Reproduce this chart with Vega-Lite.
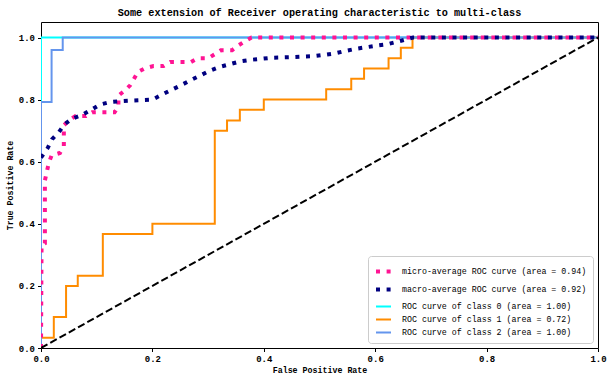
{
  "$schema": "https://vega.github.io/schema/vega-lite/v6.json",
  "width": 557,
  "height": 326,
  "autosize": {"type": "none"},
  "padding": {"left": 41, "top": 22, "right": 15, "bottom": 34},
  "background": "white",
  "title": {"text": "Some extension of Receiver operating characteristic to multi-class", "font": "Liberation Mono", "fontSize": 10.2, "fontWeight": "bold", "color": "black", "offset": 4, "anchor": "middle"},
  "config": {
    "view": {"stroke": "black", "strokeWidth": 1},
    "axis": {"grid": false, "domain": false, "tickColor": "black", "tickSize": 3.5, "labelFont": "Liberation Mono", "labelFontSize": 9, "labelFontWeight": "bold", "labelColor": "black", "labelFlush": false, "titleFont": "Liberation Mono", "titleFontSize": 8.3, "titleFontWeight": "bold", "titleColor": "black", "labelPadding": 3},
    "legend": {"orient": "bottom-right", "offset": 5, "strokeColor": "#cccccc", "fillColor": "white", "cornerRadius": 3, "padding": 6, "labelFont": "Liberation Mono", "labelFontSize": 8.3, "labelColor": "black", "labelLimit": 400, "symbolType": "stroke", "symbolSize": 225, "labelOffset": 9, "rowPadding": 0}
  },
  "datasets": {
    "roc": [
      {"s": "ROC curve of class 0 (area = 1.00)", "i": 0, "x": 0, "y": 0},
      {"s": "ROC curve of class 0 (area = 1.00)", "i": 1, "x": 0, "y": 1},
      {"s": "ROC curve of class 0 (area = 1.00)", "i": 2, "x": 1, "y": 1},
      {"s": "ROC curve of class 1 (area = 0.72)", "i": 0, "x": 0, "y": 0},
      {"s": "ROC curve of class 1 (area = 0.72)", "i": 1, "x": 0, "y": 0.033},
      {"s": "ROC curve of class 1 (area = 0.72)", "i": 2, "x": 0.023, "y": 0.033},
      {"s": "ROC curve of class 1 (area = 0.72)", "i": 3, "x": 0.023, "y": 0.1},
      {"s": "ROC curve of class 1 (area = 0.72)", "i": 4, "x": 0.045, "y": 0.1},
      {"s": "ROC curve of class 1 (area = 0.72)", "i": 5, "x": 0.045, "y": 0.2},
      {"s": "ROC curve of class 1 (area = 0.72)", "i": 6, "x": 0.066, "y": 0.2},
      {"s": "ROC curve of class 1 (area = 0.72)", "i": 7, "x": 0.066, "y": 0.233},
      {"s": "ROC curve of class 1 (area = 0.72)", "i": 8, "x": 0.111, "y": 0.233},
      {"s": "ROC curve of class 1 (area = 0.72)", "i": 9, "x": 0.111, "y": 0.367},
      {"s": "ROC curve of class 1 (area = 0.72)", "i": 10, "x": 0.2, "y": 0.367},
      {"s": "ROC curve of class 1 (area = 0.72)", "i": 11, "x": 0.2, "y": 0.4},
      {"s": "ROC curve of class 1 (area = 0.72)", "i": 12, "x": 0.312, "y": 0.4},
      {"s": "ROC curve of class 1 (area = 0.72)", "i": 13, "x": 0.312, "y": 0.7},
      {"s": "ROC curve of class 1 (area = 0.72)", "i": 14, "x": 0.334, "y": 0.7},
      {"s": "ROC curve of class 1 (area = 0.72)", "i": 15, "x": 0.334, "y": 0.733},
      {"s": "ROC curve of class 1 (area = 0.72)", "i": 16, "x": 0.357, "y": 0.733},
      {"s": "ROC curve of class 1 (area = 0.72)", "i": 17, "x": 0.357, "y": 0.767},
      {"s": "ROC curve of class 1 (area = 0.72)", "i": 18, "x": 0.4, "y": 0.767},
      {"s": "ROC curve of class 1 (area = 0.72)", "i": 19, "x": 0.4, "y": 0.8},
      {"s": "ROC curve of class 1 (area = 0.72)", "i": 20, "x": 0.512, "y": 0.8},
      {"s": "ROC curve of class 1 (area = 0.72)", "i": 21, "x": 0.512, "y": 0.833},
      {"s": "ROC curve of class 1 (area = 0.72)", "i": 22, "x": 0.557, "y": 0.833},
      {"s": "ROC curve of class 1 (area = 0.72)", "i": 23, "x": 0.557, "y": 0.867},
      {"s": "ROC curve of class 1 (area = 0.72)", "i": 24, "x": 0.58, "y": 0.867},
      {"s": "ROC curve of class 1 (area = 0.72)", "i": 25, "x": 0.58, "y": 0.9},
      {"s": "ROC curve of class 1 (area = 0.72)", "i": 26, "x": 0.624, "y": 0.9},
      {"s": "ROC curve of class 1 (area = 0.72)", "i": 27, "x": 0.624, "y": 0.933},
      {"s": "ROC curve of class 1 (area = 0.72)", "i": 28, "x": 0.646, "y": 0.933},
      {"s": "ROC curve of class 1 (area = 0.72)", "i": 29, "x": 0.646, "y": 0.967},
      {"s": "ROC curve of class 1 (area = 0.72)", "i": 30, "x": 0.667, "y": 0.967},
      {"s": "ROC curve of class 1 (area = 0.72)", "i": 31, "x": 0.667, "y": 1.0},
      {"s": "ROC curve of class 1 (area = 0.72)", "i": 32, "x": 1.0, "y": 1.0},
      {"s": "ROC curve of class 2 (area = 1.00)", "i": 0, "x": 0, "y": 0},
      {"s": "ROC curve of class 2 (area = 1.00)", "i": 1, "x": 0, "y": 0.792},
      {"s": "ROC curve of class 2 (area = 1.00)", "i": 2, "x": 0.019, "y": 0.792},
      {"s": "ROC curve of class 2 (area = 1.00)", "i": 3, "x": 0.019, "y": 0.96},
      {"s": "ROC curve of class 2 (area = 1.00)", "i": 4, "x": 0.039, "y": 0.96},
      {"s": "ROC curve of class 2 (area = 1.00)", "i": 5, "x": 0.039, "y": 1.0},
      {"s": "ROC curve of class 2 (area = 1.00)", "i": 6, "x": 1.0, "y": 1.0},
      {"s": "micro-average ROC curve (area = 0.94)", "i": 0, "x": 0, "y": 0},
      {"s": "micro-average ROC curve (area = 0.94)", "i": 1, "x": 0.001, "y": 0.33},
      {"s": "micro-average ROC curve (area = 0.94)", "i": 2, "x": 0.007, "y": 0.337},
      {"s": "micro-average ROC curve (area = 0.94)", "i": 3, "x": 0.007, "y": 0.54},
      {"s": "micro-average ROC curve (area = 0.94)", "i": 4, "x": 0.014, "y": 0.596},
      {"s": "micro-average ROC curve (area = 0.94)", "i": 5, "x": 0.019, "y": 0.62},
      {"s": "micro-average ROC curve (area = 0.94)", "i": 6, "x": 0.034, "y": 0.628},
      {"s": "micro-average ROC curve (area = 0.94)", "i": 7, "x": 0.041, "y": 0.65},
      {"s": "micro-average ROC curve (area = 0.94)", "i": 8, "x": 0.041, "y": 0.717},
      {"s": "micro-average ROC curve (area = 0.94)", "i": 9, "x": 0.051, "y": 0.735},
      {"s": "micro-average ROC curve (area = 0.94)", "i": 10, "x": 0.062, "y": 0.747},
      {"s": "micro-average ROC curve (area = 0.94)", "i": 11, "x": 0.081, "y": 0.747},
      {"s": "micro-average ROC curve (area = 0.94)", "i": 12, "x": 0.092, "y": 0.759},
      {"s": "micro-average ROC curve (area = 0.94)", "i": 13, "x": 0.132, "y": 0.759},
      {"s": "micro-average ROC curve (area = 0.94)", "i": 14, "x": 0.139, "y": 0.778},
      {"s": "micro-average ROC curve (area = 0.94)", "i": 15, "x": 0.139, "y": 0.813},
      {"s": "micro-average ROC curve (area = 0.94)", "i": 16, "x": 0.151, "y": 0.83},
      {"s": "micro-average ROC curve (area = 0.94)", "i": 17, "x": 0.16, "y": 0.846},
      {"s": "micro-average ROC curve (area = 0.94)", "i": 18, "x": 0.167, "y": 0.867},
      {"s": "micro-average ROC curve (area = 0.94)", "i": 19, "x": 0.174, "y": 0.889},
      {"s": "micro-average ROC curve (area = 0.94)", "i": 20, "x": 0.187, "y": 0.901},
      {"s": "micro-average ROC curve (area = 0.94)", "i": 21, "x": 0.202, "y": 0.908},
      {"s": "micro-average ROC curve (area = 0.94)", "i": 22, "x": 0.22, "y": 0.908},
      {"s": "micro-average ROC curve (area = 0.94)", "i": 23, "x": 0.232, "y": 0.921},
      {"s": "micro-average ROC curve (area = 0.94)", "i": 24, "x": 0.269, "y": 0.921},
      {"s": "micro-average ROC curve (area = 0.94)", "i": 25, "x": 0.281, "y": 0.933},
      {"s": "micro-average ROC curve (area = 0.94)", "i": 26, "x": 0.3, "y": 0.933},
      {"s": "micro-average ROC curve (area = 0.94)", "i": 27, "x": 0.312, "y": 0.946},
      {"s": "micro-average ROC curve (area = 0.94)", "i": 28, "x": 0.323, "y": 0.959},
      {"s": "micro-average ROC curve (area = 0.94)", "i": 29, "x": 0.343, "y": 0.959},
      {"s": "micro-average ROC curve (area = 0.94)", "i": 30, "x": 0.354, "y": 0.974},
      {"s": "micro-average ROC curve (area = 0.94)", "i": 31, "x": 0.366, "y": 0.988},
      {"s": "micro-average ROC curve (area = 0.94)", "i": 32, "x": 0.378, "y": 1.0},
      {"s": "micro-average ROC curve (area = 0.94)", "i": 33, "x": 1.0, "y": 1.0},
      {"s": "macro-average ROC curve (area = 0.92)", "i": 0, "x": 0, "y": 0.613},
      {"s": "macro-average ROC curve (area = 0.92)", "i": 1, "x": 0.012, "y": 0.644},
      {"s": "macro-average ROC curve (area = 0.92)", "i": 2, "x": 0.02, "y": 0.673},
      {"s": "macro-average ROC curve (area = 0.92)", "i": 3, "x": 0.032, "y": 0.695},
      {"s": "macro-average ROC curve (area = 0.92)", "i": 4, "x": 0.042, "y": 0.72},
      {"s": "macro-average ROC curve (area = 0.92)", "i": 5, "x": 0.055, "y": 0.738},
      {"s": "macro-average ROC curve (area = 0.92)", "i": 6, "x": 0.073, "y": 0.75},
      {"s": "macro-average ROC curve (area = 0.92)", "i": 7, "x": 0.09, "y": 0.767},
      {"s": "macro-average ROC curve (area = 0.92)", "i": 8, "x": 0.106, "y": 0.784},
      {"s": "macro-average ROC curve (area = 0.92)", "i": 9, "x": 0.124, "y": 0.792},
      {"s": "macro-average ROC curve (area = 0.92)", "i": 10, "x": 0.144, "y": 0.795},
      {"s": "macro-average ROC curve (area = 0.92)", "i": 11, "x": 0.163, "y": 0.797},
      {"s": "macro-average ROC curve (area = 0.92)", "i": 12, "x": 0.2, "y": 0.8},
      {"s": "macro-average ROC curve (area = 0.92)", "i": 13, "x": 0.217, "y": 0.816},
      {"s": "macro-average ROC curve (area = 0.92)", "i": 14, "x": 0.235, "y": 0.832},
      {"s": "macro-average ROC curve (area = 0.92)", "i": 15, "x": 0.251, "y": 0.846},
      {"s": "macro-average ROC curve (area = 0.92)", "i": 16, "x": 0.268, "y": 0.862},
      {"s": "macro-average ROC curve (area = 0.92)", "i": 17, "x": 0.285, "y": 0.877},
      {"s": "macro-average ROC curve (area = 0.92)", "i": 18, "x": 0.303, "y": 0.893},
      {"s": "macro-average ROC curve (area = 0.92)", "i": 19, "x": 0.32, "y": 0.905},
      {"s": "macro-average ROC curve (area = 0.92)", "i": 20, "x": 0.339, "y": 0.914},
      {"s": "macro-average ROC curve (area = 0.92)", "i": 21, "x": 0.357, "y": 0.923},
      {"s": "macro-average ROC curve (area = 0.92)", "i": 22, "x": 0.376, "y": 0.928},
      {"s": "macro-average ROC curve (area = 0.92)", "i": 23, "x": 0.394, "y": 0.931},
      {"s": "macro-average ROC curve (area = 0.92)", "i": 24, "x": 0.414, "y": 0.935},
      {"s": "macro-average ROC curve (area = 0.92)", "i": 25, "x": 0.452, "y": 0.937},
      {"s": "macro-average ROC curve (area = 0.92)", "i": 26, "x": 0.49, "y": 0.94},
      {"s": "macro-average ROC curve (area = 0.92)", "i": 27, "x": 0.508, "y": 0.944},
      {"s": "macro-average ROC curve (area = 0.92)", "i": 28, "x": 0.528, "y": 0.949},
      {"s": "macro-average ROC curve (area = 0.92)", "i": 29, "x": 0.547, "y": 0.957},
      {"s": "macro-average ROC curve (area = 0.92)", "i": 30, "x": 0.566, "y": 0.964},
      {"s": "macro-average ROC curve (area = 0.92)", "i": 31, "x": 0.585, "y": 0.969},
      {"s": "macro-average ROC curve (area = 0.92)", "i": 32, "x": 0.603, "y": 0.974},
      {"s": "macro-average ROC curve (area = 0.92)", "i": 33, "x": 0.621, "y": 0.978},
      {"s": "macro-average ROC curve (area = 0.92)", "i": 34, "x": 0.641, "y": 0.987},
      {"s": "macro-average ROC curve (area = 0.92)", "i": 35, "x": 0.659, "y": 0.996},
      {"s": "macro-average ROC curve (area = 0.92)", "i": 36, "x": 0.668, "y": 1.0},
      {"s": "macro-average ROC curve (area = 0.92)", "i": 37, "x": 1.0, "y": 1.0}
    ],
    "diag": [
      {"i": 0, "x": 0, "y": 0},
      {"i": 1, "x": 1, "y": 1}
    ]
  },
  "layer": [
    {
      "data": {"name": "roc"},
      "mark": {"type": "line", "clip": true},
      "encoding": {
        "x": {"field": "x", "type": "quantitative", "scale": {"domain": [0, 1], "nice": false, "zero": false}, "axis": {"title": "False Positive Rate", "values": [0, 0.2, 0.4, 0.6, 0.8, 1.0], "format": ".1f", "titlePadding": 2}},
        "y": {"field": "y", "type": "quantitative", "scale": {"domain": [0, 1.05], "nice": false, "zero": false}, "axis": {"title": "True Positive Rate", "values": [0, 0.2, 0.4, 0.6, 0.8, 1.0], "format": ".1f", "titlePadding": 4}},
        "order": {"field": "i", "type": "quantitative"},
        "color": {"field": "s", "type": "nominal", "title": null,
          "scale": {"domain": ["micro-average ROC curve (area = 0.94)", "macro-average ROC curve (area = 0.92)", "ROC curve of class 0 (area = 1.00)", "ROC curve of class 1 (area = 0.72)", "ROC curve of class 2 (area = 1.00)"],
                    "range": ["#ff1493", "#000080", "#00ffff", "#ff8c00", "#6495ed"]}},
        "strokeDash": {"field": "s", "type": "nominal", "title": null,
          "scale": {"domain": ["micro-average ROC curve (area = 0.94)", "macro-average ROC curve (area = 0.92)", "ROC curve of class 0 (area = 1.00)", "ROC curve of class 1 (area = 0.72)", "ROC curve of class 2 (area = 1.00)"],
                    "range": [[4, 6.6], [4, 6.6], [1, 0], [1, 0], [1, 0]]}},
        "strokeWidth": {"field": "s", "type": "nominal", "title": null,
          "scale": {"type": "ordinal", "domain": ["micro-average ROC curve (area = 0.94)", "macro-average ROC curve (area = 0.92)", "ROC curve of class 0 (area = 1.00)", "ROC curve of class 1 (area = 0.72)", "ROC curve of class 2 (area = 1.00)"],
                    "range": [4, 4, 2, 2, 2]}}
      }
    },
    {
      "data": {"name": "diag"},
      "mark": {"type": "line", "color": "black", "strokeWidth": 2, "strokeDash": [7.4, 3.2], "clip": true},
      "encoding": {
        "x": {"field": "x", "type": "quantitative"},
        "y": {"field": "y", "type": "quantitative"},
        "order": {"field": "i", "type": "quantitative"}
      }
    }
  ]
}
